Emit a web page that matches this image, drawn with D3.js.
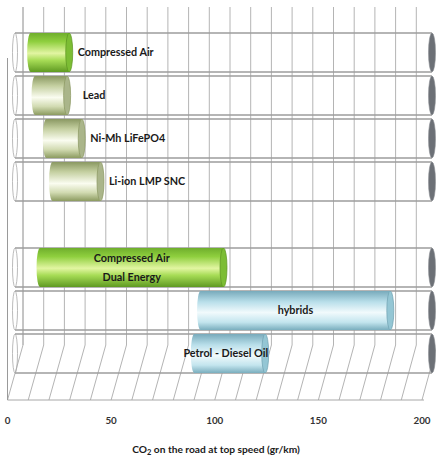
<!DOCTYPE html>
<html><head><meta charset="utf-8">
<script src="https://cdn.jsdelivr.net/npm/d3@7"></script>
<style>
html,body{margin:0;padding:0;background:#fff;}
svg{display:block;}
text{font-family:Lato,"Open Sans",sans-serif;font-weight:bold;}
</style></head>
<body>
<script>
// ---- data ----
const categories = ["Compressed Air", "Lead", "Ni-Mh LiFePO4", "Li-ion LMP SNC", "", "Compressed Air|Dual Energy", "hybrids", "Petrol - Diesel Oil"];
const startValues = [7.5, 9.6, 15, 18, null, 12, 89, 86];
const endValues   = [26, 25, 32, 41, null, 100, 180, 120];
const colorGroups = ["green", "olive", "olive", "olive", null, "green", "blue", "blue"];
const labelPlacement = ["right", "right", "right", "right", null, "center", "center", "center"];
const tickValues = [0, 50, 100, 150, 200];
const axisTitle = "CO|2| on the road at top speed  (gr/km)";

const W = 436, H = 459;
const svg = d3.select("body").append("svg").attr("width", W).attr("height", H);
const defs = svg.append("defs");

// scales
const xBack = d3.scaleLinear().domain([0, 200]).range([23, 437]);
const xFront = d3.scaleLinear().domain([0, 200]).range([7.5, 422]);
const xBar = d3.scaleLinear().domain([0, 200]).range([15, 432]);
const yBand = d3.scaleBand().domain(d3.range(categories.length)).range([31, 375])
  .paddingInner(4 / 43).paddingOuter(2 / 43);
const wallTop = 7, wallBottom = 345, floorFront = 400;

// gradients
const grads = {
  green: [[0, "#6fae2c"], [0.22, "#8fcf3e"], [0.52, "#e2f5a2"], [0.7, "#a7dc56"], [1, "#5f9a22"]],
  olive: [[0, "#8a9862"], [0.25, "#c4cfa0"], [0.55, "#fafcf0"], [0.78, "#d2dbb2"], [1, "#8c9b60"]],
  blue:  [[0, "#78aabb"], [0.28, "#b9dfea"], [0.55, "#f1fafc"], [0.8, "#c3e5ee"], [1, "#7aaebe"]]
};
const faceFill = { green: "#7cbd34", olive: "#aab58a", blue: "#94c6d4" };
const faceStroke = { green: "#5a9320", olive: "#8a9660", blue: "#6fa0b0" };
Object.entries(grads).forEach(([k, stops]) => {
  const g = defs.append("linearGradient").attr("id", "g-" + k).attr("x1", 0).attr("y1", 0).attr("x2", 0).attr("y2", 1);
  stops.forEach(s => g.append("stop").attr("offset", s[0]).attr("stop-color", s[1]));
});

const grid = svg.append("g");
const ticks10 = d3.range(0, 201, 10);
// back wall gridlines
grid.selectAll("line.back").data(ticks10).join("line")
  .attr("x1", d => xBack(d)).attr("x2", d => xBack(d))
  .attr("y1", wallTop).attr("y2", wallBottom)
  .attr("stroke", d => d === 0 ? "#8a8a8a" : "#b4b4b4").attr("stroke-width", 1);
// floor gridlines
grid.selectAll("line.floor").data(ticks10).join("line")
  .attr("x1", d => xBack(d)).attr("x2", d => xFront(d))
  .attr("y1", wallBottom).attr("y2", floorFront)
  .attr("stroke", "#b4b4b4").attr("stroke-width", 1);
// floor front edge
grid.append("line").attr("x1", xFront(0)).attr("x2", xFront(200) + 2)
  .attr("y1", floorFront).attr("y2", floorFront).attr("stroke", "#a8a8a8");
// left front edge
grid.append("line").attr("x1", xFront(0)).attr("x2", xFront(0))
  .attr("y1", 58).attr("y2", floorFront).attr("stroke", "#9a9a9a");

// tubes (full range outline)
const rx = 3.5;
const tubes = svg.append("g");
categories.forEach((c, i) => {
  if (startValues[i] == null) return;
  const y0 = yBand(i), h = yBand.bandwidth(), ry = h / 2, cy = y0 + ry;
  const a = xBar(0), b = xBar(200);
  tubes.append("line").attr("x1", a).attr("x2", b).attr("y1", y0).attr("y2", y0).attr("stroke", "#9c9c9c").attr("stroke-width", 1.3);
  tubes.append("line").attr("x1", a).attr("x2", b).attr("y1", y0 + h).attr("y2", y0 + h).attr("stroke", "#9c9c9c").attr("stroke-width", 1.3);
  tubes.append("ellipse").attr("cx", a).attr("cy", cy).attr("rx", rx - 1).attr("ry", ry)
    .attr("fill", "none").attr("stroke", "#aaaaaa").attr("stroke-width", 0.8);
  tubes.append("ellipse").attr("cx", b).attr("cy", cy).attr("rx", rx).attr("ry", ry)
    .attr("fill", "#6c7076").attr("stroke", "#8a8d92").attr("stroke-width", 0.6);
});

// bars (cylinders)
const bars = svg.append("g");
categories.forEach((c, i) => {
  if (startValues[i] == null) return;
  const y0 = yBand(i), h = yBand.bandwidth(), ry = h / 2, cy = y0 + ry;
  const x0 = xBar(startValues[i]), x1 = xBar(endValues[i]);
  const grp = colorGroups[i];
  bars.append("path")
    .attr("d", `M${x1},${y0} L${x0},${y0} A${rx},${ry} 0 0 0 ${x0},${y0 + h} L${x1},${y0 + h} Z`)
    .attr("fill", `url(#g-${grp})`);
  bars.append("ellipse").attr("cx", x1).attr("cy", cy).attr("rx", rx).attr("ry", ry)
    .attr("fill", faceFill[grp]).attr("stroke", faceStroke[grp]).attr("stroke-width", 0.7);
});

// labels
const labels = svg.append("g").attr("fill", "#1a1a1a").attr("font-size", 10.8);
categories.forEach((c, i) => {
  if (!c) return;
  const cy = yBand(i) + yBand.bandwidth() / 2;
  const lines = c.split("|");
  const x0 = xBar(startValues[i]), x1 = xBar(endValues[i]);
  const t = labels.append("text");
  if (labelPlacement[i] === "right") {
    t.attr("x", x1 + rx + (i === 1 ? 12 : 5)).attr("text-anchor", "start");
  } else {
    t.attr("x", (x0 + x1) / 2 - (i === 7 ? 4 : 0)).attr("text-anchor", "middle");
  }
  lines.forEach((ln, k) => {
    t.append("tspan").attr("x", t.attr("x"))
      .attr("y", cy + (k - (lines.length - 1) / 2) * 18.5).attr("dy", "0.35em").text(ln);
  });
});

// x tick labels
svg.append("g").selectAll("text").data(tickValues).join("text")
  .attr("x", d => xFront(d)).attr("y", 424).attr("text-anchor", "middle")
  .attr("font-size", 9.8).attr("fill", "#333").text(d => d);

// axis title
const parts = axisTitle.split("|");
const tt = svg.append("text").attr("x", 216).attr("y", 453).attr("text-anchor", "middle")
  .attr("font-size", 10.2).attr("fill", "#1a1a1a");
tt.append("tspan").text(parts[0]);
tt.append("tspan").attr("font-size", 7.5).attr("dy", 1.5).text(parts[1]);
tt.append("tspan").attr("dy", -1.5).text(parts[2]);
</script>
</body></html>
